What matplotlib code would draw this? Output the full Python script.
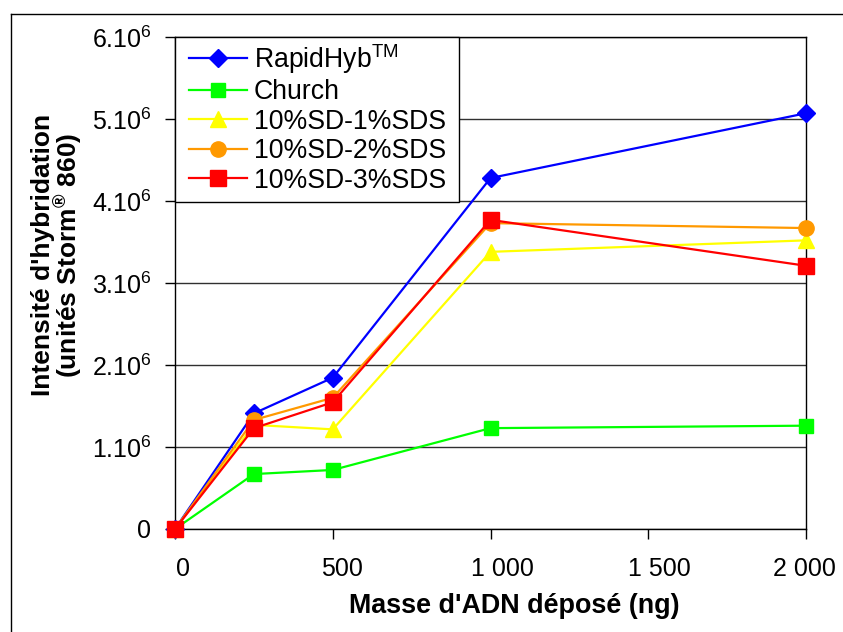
import matplotlib
matplotlib.use("Agg")
import matplotlib.pyplot as plt
from matplotlib.lines import Line2D
from matplotlib.patches import Rectangle
from matplotlib.ticker import FixedLocator
from matplotlib.transforms import ScaledTranslation

plt.rcParams['font.family'] = ['Liberation Sans', 'DejaVu Sans']
plt.rcParams['mathtext.fontset'] = 'custom'
plt.rcParams['mathtext.rm'] = 'Liberation Sans'
plt.rcParams['mathtext.it'] = 'Liberation Sans'
plt.rcParams['mathtext.bf'] = 'Liberation Sans:bold'
plt.rcParams['mathtext.default'] = 'regular'

# ---- data ----
mass_ng = [0, 250, 500, 1000, 2000]
rapidhyb = [0, 1.41e6, 1.845e6, 4.28e6, 5.07e6]
church = [0, 0.67e6, 0.72e6, 1.23e6, 1.26e6]
sd_1sds = [0, 1.27e6, 1.215e6, 3.38e6, 3.52e6]
sd_2sds = [0, 1.33e6, 1.60e6, 3.73e6, 3.67e6]
sd_3sds = [0, 1.23e6, 1.545e6, 3.77e6, 3.21e6]

series_names = ['RapidHyb$^{TM}$', 'Church', '10%SD-1%SDS', '10%SD-2%SDS', '10%SD-3%SDS']
x_ticks = [0, 500, 1000, 1500, 2000]
x_tick_labels = ['0', '500', '1 000', '1 500', '2 000']
y_ticks = [0, 1e6, 2e6, 3e6, 4e6, 5e6, 6e6]
y_tick_labels = ['0', '1.10$^{6}$', '2.10$^{6}$', '3.10$^{6}$', '4.10$^{6}$', '5.10$^{6}$', '6.10$^{6}$']

W, H = 843, 632
fig = plt.figure(figsize=(W / 100, H / 100), dpi=100)
ax = fig.add_axes([175 / W, 1 - 529 / H, (806 - 175) / W, (529 - 37) / H])

styles = [
    dict(color='#0000FF', marker='D', markersize=9),
    dict(color='#00FF00', marker='s', markersize=10),
    dict(color='#FFFF00', marker='^', markersize=11),
    dict(color='#FF9900', marker='o', markersize=11),
    dict(color='#FF0000', marker='s', markersize=11),
]
data = [rapidhyb, church, sd_1sds, sd_2sds, sd_3sds]
for name, ys, st in zip(series_names, data, styles):
    ax.plot(mass_ng, ys, label=name, linewidth=1.6, clip_on=False, zorder=3,
            markeredgecolor=st['color'], **st)

ax.set_xlim(0, 2000)
ax.set_ylim(0, 6e6)
ax.xaxis.set_major_locator(FixedLocator(x_ticks))
ax.set_xticklabels(x_tick_labels, fontsize=18)
ax.yaxis.set_major_locator(FixedLocator(y_ticks))
ax.set_yticklabels(y_tick_labels, fontsize=18)
ax.tick_params(axis='both', direction='out', length=7, width=1, color='black')
ax.tick_params(axis='x', pad=13)
ax.tick_params(axis='y', pad=10)

# Excel-style slight horizontal offsets of the category labels (pixels)
label_dx = [8, 9, 12, 11, -2]
for lab, dx in zip(ax.get_xticklabels(), label_dx):
    lab.set_transform(lab.get_transform() + ScaledTranslation(dx / 100, 0, fig.dpi_scale_trans))

ax.yaxis.grid(True, color='#303030', linewidth=1)
ax.set_axisbelow(True)
for s in ax.spines.values():
    s.set_color('black')
    s.set_linewidth(1)

fig.text(514 / W, 1 - 606 / H, "Masse d'ADN déposé (ng)", fontsize=19.4, fontweight='bold',
         ha='center', va='center')
fig.text(58 / W, 1 - 255 / H, "Intensité d'hybridation\n(unités Storm$^{\\mathbf{®}}$ 860)",
         fontsize=19, fontweight='bold', rotation=90, ha='center', va='center',
         linespacing=0.88, multialignment='center')

# legend box (drawn separately for exact Excel-like padding)
box = Rectangle((175 / W, 1 - 202 / H), (459 - 175) / W, (202 - 37) / H,
                transform=fig.transFigure, facecolor='white', edgecolor='black',
                linewidth=1, zorder=4, clip_on=False)
ax.add_patch(box)
leg = ax.legend(loc='upper left', bbox_to_anchor=(189 / W, 1 - 42 / H),
                bbox_transform=fig.transFigure, borderaxespad=0, borderpad=0,
                fontsize=19.2, frameon=False, handlelength=2.17, handletextpad=0.26,
                labelspacing=0.13)
leg.set_zorder(6)

# outer chart-area frame
fig.add_artist(Line2D([11 / W, 11 / W], [0, 1 - 14 / H], transform=fig.transFigure,
                      color='black', linewidth=1))
fig.add_artist(Line2D([11 / W, 1], [1 - 14 / H, 1 - 14 / H], transform=fig.transFigure,
                      color='black', linewidth=1))

fig.savefig('out.png', dpi=100)
